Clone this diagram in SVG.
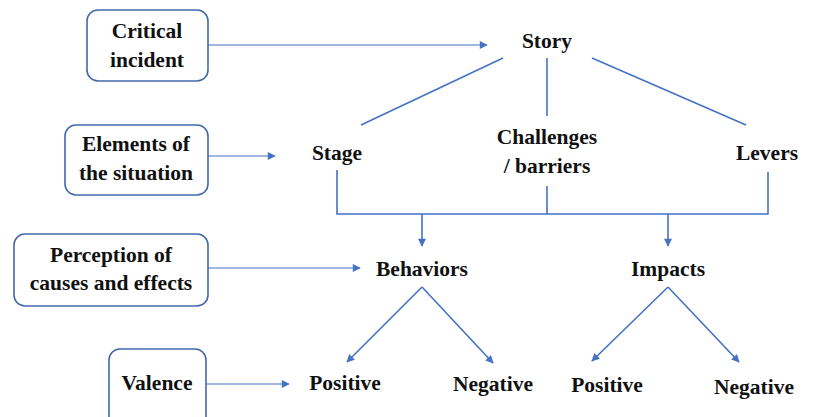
<svg xmlns="http://www.w3.org/2000/svg" width="815" height="417" viewBox="0 0 815 417">
<style>
text{font-family:"Liberation Serif","Times New Roman",Times,serif;font-weight:700;font-size:21.5px;fill:#111;text-anchor:middle}
.box{fill:#fff;stroke:#4169AA;stroke-width:1.6}
.ln{fill:none;stroke:#4472C4;stroke-width:1.6}
.ar{fill:none;stroke:#4472C4;stroke-width:1.1;marker-end:url(#ah)}
.la{fill:none;stroke:#4472C4;stroke-width:1.6;marker-end:url(#ah)}
</style>
<defs>
<marker id="ah" viewBox="0 0 10 10" refX="9" refY="5" markerUnits="userSpaceOnUse" markerWidth="9" markerHeight="8" orient="auto">
<path d="M0,0 L10,5 L0,10 z" fill="#4472C4"/>
</marker>
</defs>
<rect width="815" height="417" fill="#fff"/>
<g id="connectors">
<line class="ar" x1="208" y1="45" x2="487" y2="45"/>
<line class="ar" x1="208" y1="156" x2="275" y2="156"/>
<line class="ar" x1="208" y1="268" x2="360" y2="268"/>
<line class="ar" x1="206" y1="384" x2="289" y2="384"/>
<line class="ln" x1="503" y1="58" x2="361" y2="125"/>
<line class="ln" x1="547" y1="58" x2="547" y2="116"/>
<line class="ln" x1="592" y1="58" x2="746" y2="125"/>
<polyline class="ln" points="337,170 337,214 768,214 768,172"/>
<line class="ln" x1="547" y1="186" x2="547" y2="214"/>
<line class="la" x1="422" y1="214" x2="422" y2="246"/>
<line class="la" x1="668" y1="214" x2="668" y2="246"/>
<polyline class="la" points="422,287 347,362"/>
<polyline class="la" points="422,287 493,363"/>
<polyline class="la" points="668,287 592,361"/>
<polyline class="la" points="668,287 739,362"/>
</g>
<g id="critical-incident">
<rect class="box" x="87" y="10" width="121" height="71" rx="11"/>
<text x="147" y="38">Critical</text>
<text x="147" y="67">incident</text>
</g>
<g id="elements-of-the-situation">
<rect class="box" x="65" y="125" width="143" height="70" rx="11"/>
<text x="136" y="151">Elements of</text>
<text x="136" y="180">the situation</text>
</g>
<g id="perception">
<rect class="box" x="14" y="234" width="194" height="72" rx="11"/>
<text x="111" y="262">Perception of</text>
<text x="111" y="290">causes and effects</text>
</g>
<g id="valence">
<rect class="box" x="109" y="349" width="97" height="80" rx="11"/>
<text x="157" y="390">Valence</text>
</g>
<g id="story"><text x="547" y="48">Story</text></g>
<g id="stage"><text x="337" y="160">Stage</text></g>
<g id="challenges"><text x="547" y="144">Challenges</text><text x="547" y="173">/ barriers</text></g>
<g id="levers"><text x="767" y="160">Levers</text></g>
<g id="behaviors"><text x="422" y="276">Behaviors</text></g>
<g id="impacts"><text x="668" y="276">Impacts</text></g>
<g id="b-positive"><text x="345" y="390">Positive</text></g>
<g id="b-negative"><text x="493" y="391">Negative</text></g>
<g id="i-positive"><text x="607" y="392">Positive</text></g>
<g id="i-negative"><text x="754" y="394">Negative</text></g>
</svg>
